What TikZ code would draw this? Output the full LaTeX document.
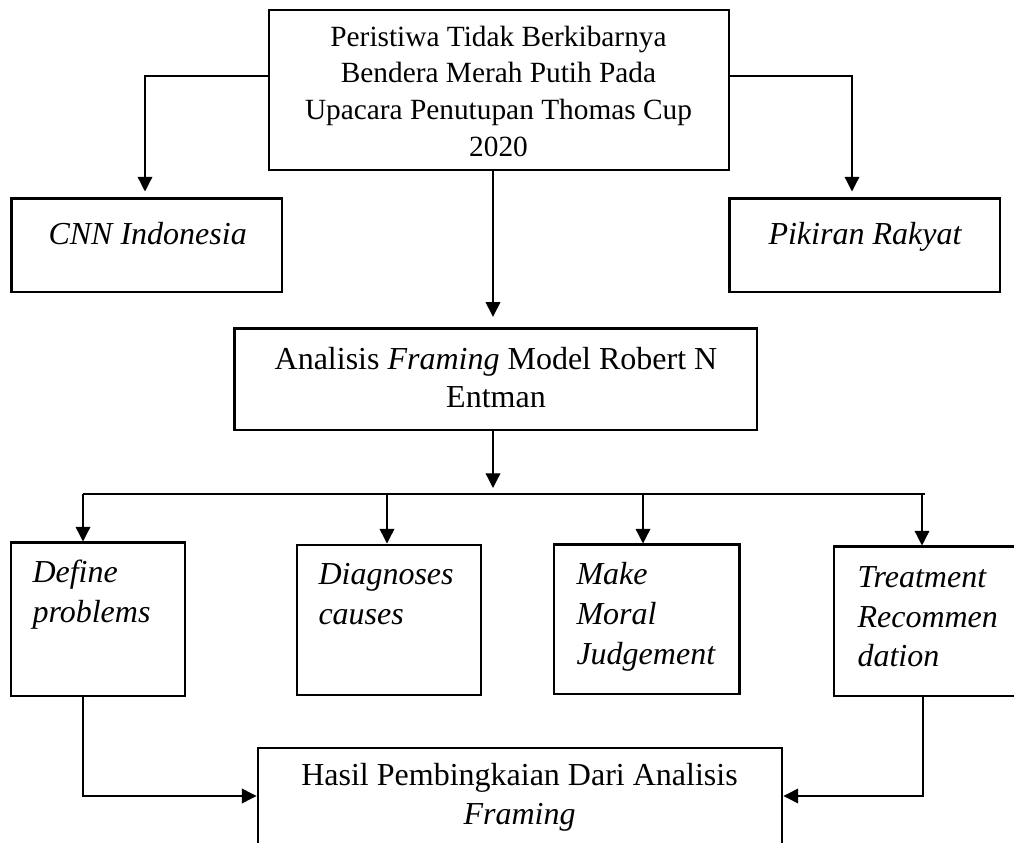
\documentclass[tikz,border=0pt]{standalone}
\usepackage{fontspec}
\setmainfont{Liberation Serif}
\usetikzlibrary{arrows.meta}
\begin{document}
\begin{tikzpicture}[x=0.375pt, y=-0.375pt,
  box/.style={draw, line width=1.1pt, inner sep=0pt, rectangle},
  conn/.style={line width=0.5pt},
  arr/.style={conn, -{Triangle[length=5.5pt,width=5.5pt]}},
  big/.style={font=\fontsize{12}{14}\selectfont, inner sep=0pt, anchor=base west},
  bigc/.style={font=\fontsize{12}{14}\selectfont, inner sep=0pt, anchor=base},
  smallc/.style={font=\fontsize{11}{13}\selectfont, inner sep=0pt, anchor=base}]

\clip (0,0) rectangle (1014,843);

% boxes
\node[box, minimum width=172.5pt, minimum height=60pt] (top) at (499,90) {};
\node[box, minimum width=101.6pt, minimum height=34.9pt] (cnn) at (146.5,245.5) {};
\node[box, minimum width=101.6pt, minimum height=34.9pt] (pik) at (864.5,245.5) {};
\node[box, minimum width=196.1pt, minimum height=37.9pt] (ana) at (495.5,379.5) {};
\node[box, minimum width=65.25pt, minimum height=57.4pt] (def) at (98,619.5) {};
\node[box, minimum width=69pt, minimum height=56.25pt] (dia) at (389,620) {};
\node[box, minimum width=69.4pt, minimum height=55.9pt] (mak) at (646.5,619.5) {};
\node[box, minimum width=69.75pt, minimum height=55.9pt] (tre) at (927,621.5) {};
\node[box, minimum width=196.5pt, minimum height=42pt] (res) at (520,804) {};

% texts
\node[smallc] (t1) at (498.5,47) {Peristiwa Tidak Berkibarnya};
\node[smallc] (t2) at (498.5,83) {Bendera Merah Putih Pada};
\node[smallc] (t3) at (498.5,120) {Upacara Penutupan Thomas Cup};
\node[smallc] (t4) at (498.5,157) {2020};

\node[big] (cnnt) at (48,245) {\itshape CNN Indonesia};
\node[big] (pikt) at (768,245) {\itshape Pikiran Rakyat};

\node[bigc] (a1) at (496,370) {Analisis \textit{Framing} Model Robert N};
\node[bigc] (a2) at (496,408) {Entman};

\node[big] (d1) at (32,583) {\itshape Define};
\node[big] (d2) at (32,623) {\itshape problems};

\node[big] (g1) at (318,585) {\itshape Diagnoses};
\node[big] (g2) at (318,625) {\itshape causes};

\node[big] (m1) at (576,585) {\itshape Make};
\node[big] (m2) at (576,625) {\itshape Moral};
\node[big] (m3) at (576,665) {\itshape Judgement};

\node[big] (r1) at (857,588) {\itshape Treatment};
\node[big] (r2) at (857,628) {\itshape Recommen};
\node[big] (r3) at (857,667) {\itshape dation};

\node[bigc] (h1) at (519.5,786) {Hasil Pembingkaian Dari Analisis};
\node[bigc] (h2) at (519.5,825) {\itshape Framing};

% connectors
\coordinate (tl) at (145,76);
\coordinate (tr) at (852,76);
\draw[arr, shorten >=2.25pt] (top.west |- tl) -- (tl) -- (tl |- cnn.north);
\draw[arr, shorten >=2.25pt] (top.east |- tr) -- (tr) -- (tr |- pik.north);

\coordinate (cx) at (493,0);
\coordinate (bus) at (493,494);
\draw[arr, shorten >=4pt] (cx |- top.south) -- (cx |- ana.north);
\draw[arr, shorten >=2.25pt] (cx |- ana.south) -- (bus);

\coordinate (b1) at (83,494);
\coordinate (b2) at (387,494);
\coordinate (b3) at (643,494);
\coordinate (b4) at (922,494);
\coordinate (b5) at (925,494);
\draw[conn] (b1) -- (b5);
\draw[arr] (b1) -- (b1 |- def.north);
\draw[arr] (b2) -- (b2 |- dia.north);
\draw[arr] (b3) -- (b3 |- mak.north);
\draw[arr] (b4) -- (b4 |- tre.north);

\coordinate (bl) at (83,796);
\coordinate (br) at (923,796);
\draw[arr] (bl |- def.south) -- (bl) -- (bl -| res.west);
\draw[arr] (br |- tre.south) -- (br) -- (br -| res.east);
\end{tikzpicture}
\end{document}
